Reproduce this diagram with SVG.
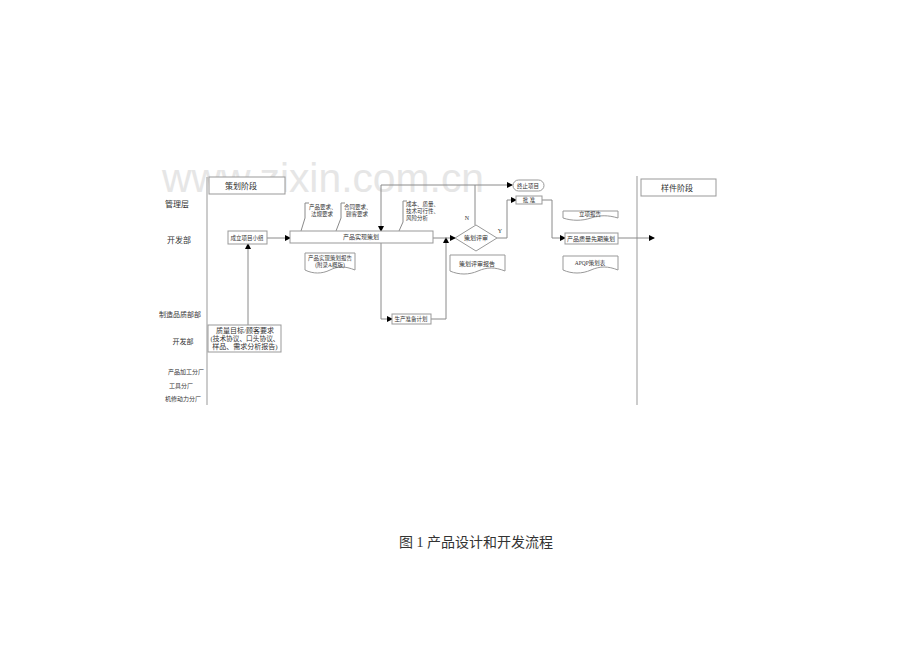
<svg xmlns="http://www.w3.org/2000/svg" width="920" height="651" viewBox="0 0 920 651">
<defs>
<marker id="ah" markerWidth="6" markerHeight="6" refX="5" refY="3" orient="auto" markerUnits="userSpaceOnUse">
<path d="M0,0 L6,3 L0,6 Z" fill="#000"/>
</marker>
<style>
.lane{stroke:#999;stroke-width:1;fill:none}
.box{fill:#fff;stroke:#999;stroke-width:1}
.ln{stroke:#8a8a8a;stroke-width:1;fill:none}
.ar{stroke:#8a8a8a;stroke-width:1;fill:none;marker-end:url(#ah)}
.t{font-family:"Liberation Serif","Noto Sans CJK SC",serif;fill:#333;text-anchor:middle}
.st{text-anchor:start}
.s5{font-size:5.5px}
.s6{font-size:6px}
.s7{font-size:7px}
.s8{font-size:8px}
.wm{font-family:"Liberation Sans",Arial,sans-serif;font-size:41px;fill:#e6e6e6}
</style>
</defs>
<rect width="920" height="651" fill="#fff"/>
<text class="wm" x="162" y="192" textLength="322" lengthAdjust="spacingAndGlyphs">www.zixin.com.cn</text>

<g id="lanes">
<line class="lane" x1="207" y1="177" x2="207" y2="405"/>
<line class="lane" x1="637" y1="176" x2="637" y2="405"/>
</g>

<g id="lane-labels">
<text class="t s8" x="177" y="207">管理层</text>
<text class="t s8" x="179" y="243">开发部</text>
<text class="t s7" x="180" y="317">制造品质部部</text>
<text class="t s7" x="183" y="344">开发部</text>
<text class="t s6" x="186" y="374">产品加工分厂</text>
<text class="t s6" x="181" y="388">工具分厂</text>
<text class="t s6" x="183" y="401">机修动力分厂</text>
</g>

<g id="connectors">
<line class="ar" x1="248" y1="325" x2="248" y2="244"/>
<line class="ar" x1="267" y1="238" x2="290" y2="238"/>
<polyline class="ar" points="475,225 475,185 512,185"/>
<polyline class="ln" points="381,185 475,185"/>
<line class="ar" x1="381" y1="185" x2="381" y2="231"/>
<polyline class="ar" points="381,243 381,319 392,319"/>
<polyline class="ar" points="431,319 446,319 446,238"/>
<line class="ar" x1="433" y1="238" x2="455" y2="238"/>
<polyline class="ar" points="497,238 507,238 507,200 516,200"/>
<polyline class="ar" points="542,200 552,200 552,238 565,238"/>
<line class="ar" x1="618" y1="238" x2="654" y2="238"/>
<polyline class="ln" points="309,203 305,203 305,218 301,231"/>
<polyline class="ln" points="345,203 341,203 341,218 336,231"/>
<polyline class="ln" points="407,201 403,201 403,222 399,231"/>
</g>

<g id="stage1">
<rect class="box" x="209" y="177" width="76" height="17"/>
<text class="t s8" x="241" y="189">策划阶段</text>
</g>
<g id="stage2">
<rect class="box" x="641" y="179" width="75" height="17"/>
<text class="t s8" x="677" y="191">样件阶段</text>
</g>

<g id="n-group">
<rect class="box" x="228" y="231" width="39" height="13"/>
<text class="t s5" x="247" y="240">成立项目小组</text>
</g>

<g id="n-input">
<rect class="box" x="208" y="325" width="73" height="27"/>
<text class="t s7" x="245" y="333">质量目标/顾客要求</text>
<text class="t s7" x="245" y="341" textLength="69" lengthAdjust="spacingAndGlyphs">(技术协议、口头协议、</text>
<text class="t s7" x="245" y="349">样品、需求分析报告)</text>
</g>

<g id="n-plan">
<rect class="box" x="290" y="231" width="143" height="12"/>
<text class="t s6" x="361" y="239">产品实现策划</text>
</g>

<g id="c1">
<text class="t st s5" x="309" y="209">产品要求、</text>
<text class="t st s5" x="311" y="216">法规要求</text>
</g>
<g id="c2">
<text class="t st s5" x="344" y="209">合同要求、</text>
<text class="t st s5" x="346" y="216">顾客要求</text>
</g>
<g id="c3">
<text class="t st s5" x="406" y="206">成本、质量、</text>
<text class="t st s5" x="406" y="213">技术可行性、</text>
<text class="t st s5" x="406" y="220">风险分析</text>
</g>

<g id="d-report1">
<path class="box" d="M305,253 H355 V270 C345,266 338,266 330,270 C322,274 313,274 305,270 Z"/>
<text class="t s5" x="330" y="260">产品实现策划报告</text>
<text class="t s5" x="330" y="267">(附录A概版)</text>
</g>

<g id="n-prep">
<rect class="box" x="392" y="314" width="39" height="10"/>
<text class="t s5" x="411" y="321">生产准备计划</text>
</g>

<g id="n-review">
<polygon class="box" points="476,225 497,238 476,251 455,238"/>
<text class="t s6" x="476" y="240">策划评审</text>
<text class="t s6" x="467" y="220">N</text>
<text class="t s6" x="500" y="233">Y</text>
</g>

<g id="d-review">
<path class="box" d="M450,255 H505 V271 C495,267 487,267 478,271 C469,275 459,275 450,271 Z"/>
<text class="t s6" x="477" y="266">策划评审报告</text>
</g>

<g id="n-stop">
<rect class="box" x="513" y="180" width="31" height="11" rx="5.5"/>
<text class="t s5" x="528" y="188">终止项目</text>
</g>

<g id="n-approve">
<rect class="box" x="516" y="196" width="26" height="8"/>
<text class="t s5" x="529" y="202">批  准</text>
</g>

<g id="d-setup">
<path class="box" d="M563,211 H618 V218 C608,215 600,215 591,218 C582,221 572,221 563,218 Z"/>
<text class="t s5" x="590" y="216">立项报告</text>
</g>

<g id="n-apqp">
<rect class="box" x="565" y="233" width="53" height="11"/>
<text class="t s6" x="591" y="241">产品质量先期策划</text>
</g>

<g id="d-apqp">
<path class="box" d="M563,256 H618 V270 C608,266 600,266 591,270 C582,274 572,274 563,270 Z"/>
<text class="t s5" x="590" y="265">APQP策划表</text>
</g>

<text class="t" style="font-size:14px" x="476" y="547">图 1  产品设计和开发流程</text>
</svg>
